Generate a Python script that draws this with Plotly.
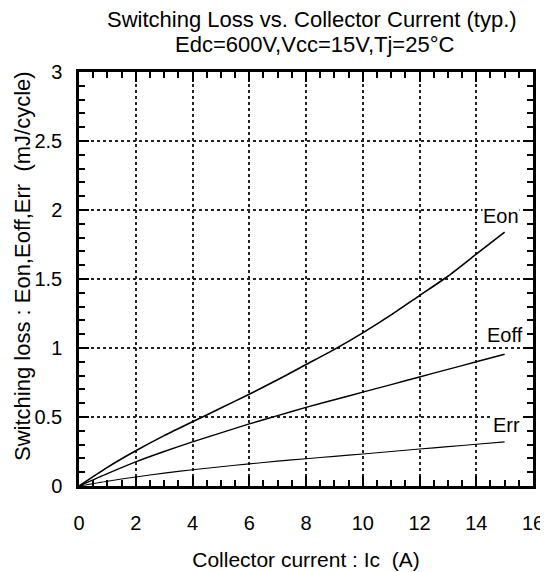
import plotly.graph_objects as go

ic = [0, 1, 2, 3, 4, 5, 6, 7, 8, 9, 10, 11, 12, 13, 14, 15]
eon = [0, 0.135, 0.255, 0.365, 0.465, 0.565, 0.665, 0.77, 0.88, 0.99, 1.11, 1.24, 1.38, 1.52, 1.68, 1.84]
eoff = [0, 0.09, 0.175, 0.25, 0.32, 0.385, 0.45, 0.51, 0.57, 0.625, 0.68, 0.735, 0.79, 0.845, 0.90, 0.955]
err = [0, 0.035, 0.065, 0.093, 0.118, 0.14, 0.16, 0.18, 0.198, 0.215, 0.232, 0.25, 0.268, 0.285, 0.302, 0.32]

labels = ["Eon", "Eoff", "Err"]
label_x = [14.87, 15.01, 15.05]
label_y = [1.957, 1.094, 0.442]

title_lines = ["Switching Loss vs. Collector Current (typ.)", "Edc=600V,Vcc=15V,Tj=25°C"]
x_title = "Collector current : Ic  (A)"
y_title = "Switching loss : Eon,Eoff,Err  (mJ/cycle)"

font_family = "Liberation Sans, Arial, sans-serif"

# page body has an 8px margin; work in screen pixels and convert
OFF = 8
W, H = 540, 564
L, R, T, B = 79, 533, 72, 486  # plot box, screen pixels


def px_to_paper(sx, sy):
    return (sx - L) / (R - L), (B - sy) / (B - T)


fig = go.Figure()
for ys, w in [(eon, 1.6), (eoff, 1.4), (err, 1.1)]:
    fig.add_trace(go.Scatter(x=ic, y=ys, mode="lines",
                             line=dict(color="black", width=w, shape="spline", smoothing=0.6),
                             showlegend=False, hoverinfo="skip"))

for t, lx, ly in zip(labels, label_x, label_y):
    fig.add_annotation(x=lx, y=ly, xref="x", yref="y", text=t, showarrow=False,
                       bgcolor="white", borderpad=0,
                       font=dict(size=20, color="black", family=font_family))

for t, sx, sy in zip(title_lines, [312, 314], [19, 44.5]):
    ax, ay = px_to_paper(sx, sy)
    fig.add_annotation(x=ax, y=ay, xref="paper", yref="paper",
                       xanchor="center", yanchor="middle", text=t, showarrow=False,
                       font=dict(size=22, color="black", family=font_family))

# y-axis title (centred a little above the plot middle, as in the reference)
ax, ay = px_to_paper(22, 266)
fig.add_annotation(x=ax, y=ay, xref="paper", yref="paper", xanchor="center", yanchor="middle",
                   text=y_title, textangle=-90, showarrow=False,
                   font=dict(size=22, color="black", family=font_family))

axis_common = dict(
    showline=True, linecolor="black", linewidth=2.5, mirror="ticks",
    ticks="inside", ticklen=10, tickwidth=2, tickcolor="black",
    showgrid=True, gridcolor="#222", gridwidth=1.5, griddash="3px,3px",
    zeroline=False, automargin=False,
    tickfont=dict(size=20, color="black", family=font_family),
)

fig.update_xaxes(range=[0, 16], dtick=2, tick0=0,
                 minor=dict(dtick=0.5, ticks="inside", ticklen=6, tickwidth=2, tickcolor="black", showgrid=False),
                 title=dict(text=x_title, font=dict(size=21, color="black", family=font_family), standoff=20),
                 ticklabelstandoff=17,
                 **axis_common)
fig.update_yaxes(range=[0, 3], dtick=0.5, tick0=0,
                 minor=dict(dtick=0.1, ticks="inside", ticklen=6, tickwidth=2, tickcolor="black", showgrid=False),
                 ticklabelstandoff=10,
                 **axis_common)

fig.update_layout(
    width=W, height=H,
    margin=dict(l=L - OFF, r=W - (R - OFF), t=T - OFF, b=H - (B - OFF)),
    paper_bgcolor="white", plot_bgcolor="white",
)

fig.write_html("out.html")
